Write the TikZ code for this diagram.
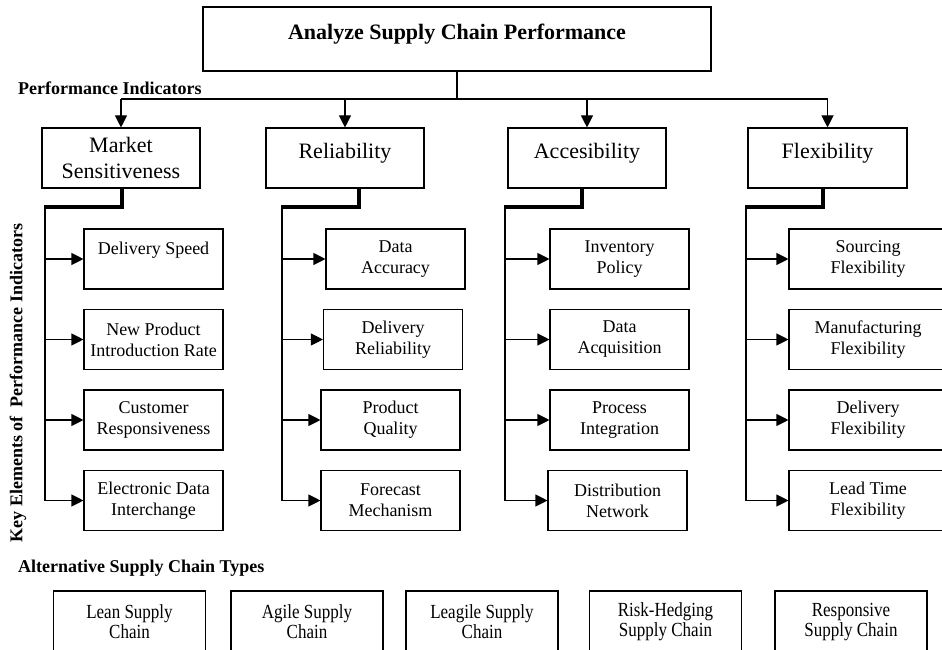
\documentclass[tikz,border=0pt]{standalone}
\usepackage{fontspec}
\setmainfont{Liberation Serif}
\newfontfamily\condserif[FakeStretch=0.85]{Liberation Serif}
\usetikzlibrary{arrows.meta}
\tikzset{
    line/.style={
        line width=1.1pt
    },
    arrow/.style={
        line,
        -{Triangle[length=12pt, width=12pt]}
    },
    elbow/.style={
        line width=3.5pt
    },
    trunk/.style={
        line width=2pt
    },
    box/.style={
        draw,
        line width=1.1pt,
        fill=white,
        inner sep=0pt,
        align=center
    },
    titlebox/.style={
        box,
        minimum width=508pt,
        minimum height=64pt,
        text depth=14pt,
        font=\fontsize{22}{26}\selectfont\bfseries
    },
    indbox/.style={
        box,
        minimum width=158pt,
        minimum height=60pt,
        font=\fontsize{22}{26.5}\selectfont
    },
    elembox/.style={
        box,
        minimum width=139pt,
        minimum height=60pt,
        font=\fontsize{18}{21}\selectfont
    },
    typebox/.style={
        box,
        minimum width=152pt,
        minimum height=62pt,
        font=\condserif\fontsize{20}{20}\selectfont
    },
    heading/.style={
        inner sep=0pt,
        font=\fontsize{18}{21}\selectfont\bfseries
    }
}
% elbow from an indicator, trunk and the four arrows to its elements
\newcommand{\branchout}[3]{
    \draw [elbow] ([xshift=#2]#1.south) |- (#3corner);
    \draw [trunk] ([yshift=1.75pt]#3corner) -- (#3corner |- #34.west);
    \foreach \i in {1, ..., 4} {
        \draw [arrow] (#3corner |- #3\i.west) -- (#3\i.west);
    }
}

\begin{document}
\begin{tikzpicture}[x=1pt, y=-1pt]
    \useasboundingbox (0, 0) rectangle (942, 650);

    \node [titlebox] (title) at (457, 39) {Analyze Supply Chain Performance};
    \node [heading, anchor=west] (pilabel) at (18, 88) {Performance Indicators};

    \node [indbox] (market) at (121, 158) {Market\\Sensitiveness};
    \node [indbox, text depth=14pt] (reliab) at (345, 158) {Reliability};
    \node [indbox, text depth=14pt] (access) at (587, 158) {Accesibility};
    \node [indbox, text depth=14pt, minimum width=159pt] (flex) at (827.5, 158) {Flexibility};

    \coordinate (bar) at (457, 99);
    \draw [trunk] (title.south) -- (bar);
    \draw [line] (market.north |- bar) -- (flex.north |- bar);
    \foreach \n in {market, reliab, access, flex} {
        \draw [arrow] (\n.north |- bar) -- (\n.north);
    }

    % key elements
    \node [elembox, text depth=22pt] (m1) at (153.5, 259) {Delivery Speed};
    \foreach \x/\txt [count=\i from 2] in {
        153.5/{New Product\\Introduction Rate},
        153.5/{Customer\\Responsiveness},
        153.5/{Electronic Data\\Interchange}} {
        \node [elembox] (m\i) at (\x, {259 + (\i - 1) * 80.5}) {\txt};
    }
    \foreach \x/\txt [count=\i] in {
        395.5/{Data\\Accuracy},
        393/{Delivery\\Reliability},
        390.5/{Product\\Quality},
        390.5/{Forecast\\Mechanism}} {
        \node [elembox] (r\i) at (\x, {259 + (\i - 1) * 80.5}) {\txt};
    }
    \foreach \x/\txt [count=\i] in {
        619.5/{Inventory\\Policy},
        619.5/{Data\\Acquisition},
        619.5/{Process\\Integration},
        617.5/{Distribution\\Network}} {
        \node [elembox] (a\i) at (\x, {259 + (\i - 1) * 80.5}) {\txt};
    }
    \foreach \x/\txt [count=\i] in {
        868/{Sourcing\\Flexibility},
        868/{Manufacturing\\Flexibility},
        868/{Delivery\\Flexibility},
        868/{Lead Time\\Flexibility}} {
        \node [elembox, minimum width=158pt] (f\i) at (\x, {259 + (\i - 1) * 80.5}) {\txt};
    }

    \coordinate (mcorner) at (44.5, 207);
    \coordinate (rcorner) at (281.5, 207);
    \coordinate (acorner) at (504.5, 207);
    \coordinate (fcorner) at (745.5, 207);
    \branchout{market}{1pt}{m}
    \branchout{reliab}{14pt}{r}
    \branchout{access}{-5pt}{a}
    \branchout{flex}{-4.5pt}{f}

    \node [heading, rotate=90] (kelabel) at (18, 383) {Key Elements of \ Performance Indicators};

    % supply chain types
    \node [heading, anchor=west] (typelabel) at (18, 568) {Alternative Supply Chain Types};
    \foreach \x/\txt [count=\i] in {
        129.5/{Lean Supply\\Chain},
        307/{Agile Supply\\Chain},
        482/{Leagile Supply\\Chain},
        665.5/{Risk-Hedging\\Supply Chain},
        851/{Responsive\\Supply Chain}} {
        \node [typebox] (type\i) at (\x, 622) {\txt};
    }
\end{tikzpicture}
\end{document}
